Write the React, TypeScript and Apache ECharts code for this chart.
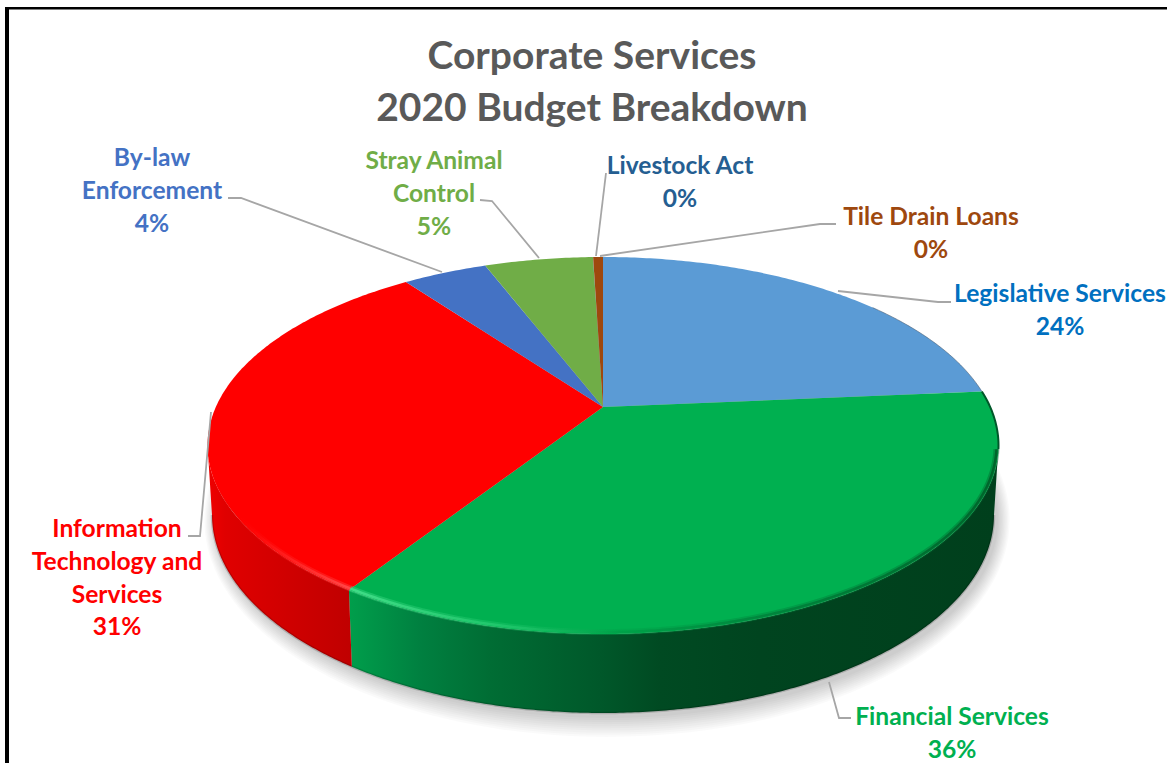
import React, { useEffect, useRef } from "react";
import * as echarts from "echarts";

const titleLines = ["Corporate Services", "2020 Budget Breakdown"];
const categories = [
  "Legislative Services",
  "Financial Services",
  "Information Technology and Services",
  "By-law Enforcement",
  "Stray Animal Control",
  "Livestock Act",
  "Tile Drain Loans",
];
const values = [23.6, 35.55, 30.75, 4.2, 5.4, 0.01, 0.49];
const sliceColors = ["#5b9bd5", "#00b050", "#ff0000", "#4472c4", "#70ad47", "#255e91", "#9e480e"];
const labelColors = ["#0070c0", "#00b050", "#ff0000", "#4472c4", "#70ad47", "#255e91", "#9e480e"];

const FONT = "Lato, Carlito, Calibri, sans-serif";
const W = 1167;
const H = 763;

// Perspective disc
const CX = 603;
const APEX_Y = 407;
const RX = 395.5;
const RY_BACK = 150;
const RY_FRONT = 227;
const K = (RY_FRONT - RY_BACK) / (RY_FRONT + RY_BACK);
const A = RY_FRONT * (1 - K);
const B = RX * Math.sqrt(1 - K * K);
const RIM_CY = APEX_Y + (RY_FRONT - RY_BACK) / 2;
const RIM_RY = (RY_FRONT + RY_BACK) / 2;
const FOOT_CY = 515;
const FOOT_RX = 391;
const FOOT_RY = 198;

const rimPoint = (t: number) => [CX + RX * Math.cos(t), RIM_CY + RIM_RY * Math.sin(t)];
const footPoint = (t: number) => [CX + FOOT_RX * Math.cos(t), FOOT_CY + FOOT_RY * Math.sin(t)];
// rim ellipse pulled in by a few pixels, for the soft bevel band
const bevelPoint = (t: number) => [CX + (RX - 2) * Math.cos(t), RIM_CY + (RIM_RY - 2) * Math.sin(t)];

// clockwise angle from 12 o'clock -> parameter on the rim ellipse
const angleToRim = (a: number) => {
  const u = Math.sin(a);
  const v = -Math.cos(a);
  const d = 1 - K * v;
  const x = CX + (B * u) / d;
  const y = APEX_Y + (A * v) / d;
  let t = Math.atan2((y - RIM_CY) / RIM_RY, (x - CX) / RX);
  if (a > Math.PI && t < 0) t += Math.PI * 2;
  return t;
};

const total = values.reduce((s, v) => s + v, 0);
const sliceRange = (i: number) => {
  let before = 0;
  for (let k = 0; k < i; k++) before += values[k];
  const a0 = (before / total) * Math.PI * 2;
  const a1 = ((before + values[i]) / total) * Math.PI * 2;
  return [angleToRim(a0), angleToRim(a1)];
};

const sampleRim = (t0: number, t1: number, fn: (t: number) => number[]) => {
  const n = Math.max(2, Math.ceil(Math.abs(t1 - t0) / 0.01));
  const out: number[][] = [];
  for (let i = 0; i <= n; i++) out.push(fn(t0 + ((t1 - t0) * i) / n));
  return out;
};

const lg = (stops: [number, string][], x0 = 207, x1 = 998) =>
  new echarts.graphic.LinearGradient(
    x0, 0, x1, 0,
    stops.map(([x, color]) => ({ offset: (x - x0) / (x1 - x0), color })),
    true
  );

const wallFills: Record<number, any> = {
  1: () =>
    lg([
      [345, "#00a04c"],
      [420, "#008040"],
      [490, "#006d34"],
      [600, "#00582a"],
      [660, "#004a22"],
      [760, "#00441f"],
      [998, "#003f1c"],
    ]),
  2: () =>
    lg([
      [207, "#f00000"],
      [225, "#e00000"],
      [280, "#d20000"],
      [350, "#c00000"],
    ]),
};
const rimStrokes: Record<number, any> = {
  1: () =>
    lg([
      [345, "#46e08c"],
      [520, "#1cc468"],
      [620, "#00a048"],
      [760, "#00843c"],
      [998, "#006029"],
    ]),
  2: () => lg([[236, "rgba(255,0,0,0)"], [270, "#ff1414"], [345, "#ff4a4a"]]),
};

const SHADOW_LAYERS = [0, 1, 2, 3, 4, 5, 6, 7, 8, 9];
const renderShadow = () => ({
  type: "group",
  silent: true,
  children: SHADOW_LAYERS.map((i) => ({
    type: "ellipse",
    shape: { cx: CX + 4, cy: FOOT_CY + 5, rx: FOOT_RX + 1.3 * i, ry: FOOT_RY + 2.1 * i },
    style: { fill: "rgba(0,0,0,0.021)" },
  })),
});

const renderWall = (params: any) => {
  const make = wallFills[params.dataIndex];
  if (!make) return { type: "group", children: [] };
  const [t0, t1] = sliceRange(params.dataIndex);
  const a = Math.max(t0, 0);
  const b = Math.min(t1, Math.PI);
  if (b <= a) return { type: "group", children: [] };
  const top = sampleRim(a, b, rimPoint);
  const foot = sampleRim(b, a, footPoint);
  return {
    type: "group",
    silent: true,
    children: [
      { type: "polygon", shape: { points: top.concat(foot) }, style: { fill: make() } },
      {
        type: "polyline",
        shape: { points: foot },
        style: { fill: null, stroke: "rgba(0,0,0,0.16)", lineWidth: 2.5 },
      },
    ],
  };
};

const renderTop = (params: any) => {
  const [t0, t1] = sliceRange(params.dataIndex);
  const pts = [[CX, APEX_Y]].concat(sampleRim(t0, t1, rimPoint));
  return {
    type: "polygon",
    silent: true,
    shape: { points: pts },
    style: { fill: sliceColors[params.dataIndex] },
  };
};

const renderRim = (params: any) => {
  const i = params.dataIndex;
  const [t0, t1] = sliceRange(i);
  if (i === 0) {
    return {
      type: "polyline",
      silent: true,
      shape: { points: sampleRim(t0 + 0.75, t1, rimPoint) },
      style: { fill: null, stroke: "rgba(70,90,110,0.55)", lineWidth: 1 },
    };
  }
  const make = rimStrokes[i];
  if (!make) return { type: "group", children: [] };
  const end = i === 2 ? Math.PI - 0.38 : t1;
  const front = Math.max(t0, 0.02);
  const band = sampleRim(front, end, bevelPoint);
  const children: any[] = [
    { type: "polyline", shape: { points: band }, style: { fill: null, stroke: make(), lineWidth: 6, opacity: 0.4 } },
    { type: "polyline", shape: { points: band }, style: { fill: null, stroke: make(), lineWidth: 2.5, opacity: 0.9 } },
  ];
  if (t0 < 0) {
    // dark fringe where the side wall just shows behind the rim's right end
    children.push({
      type: "polyline",
      shape: { points: sampleRim(t0, 0.02, rimPoint) },
      style: { fill: null, stroke: "#00582a", lineWidth: 2 },
    });
  }
  return { type: "group", silent: true, children };
};

// label layouts: lines, centre x, first-line centre y
const labelLayouts = [
  { lines: ["Legislative Services"], x: 1060, y: 293 },
  { lines: ["Financial Services"], x: 952, y: 716 },
  { lines: ["Information", "Technology and", "Services"], x: 117, y: 528 },
  { lines: ["By-law", "Enforcement"], x: 152, y: 157 },
  { lines: ["Stray Animal", "Control"], x: 434, y: 160 },
  { lines: ["Livestock Act"], x: 680, y: 165 },
  { lines: ["Tile Drain Loans"], x: 931, y: 216 },
];
const leaderPaths = [
  [[951, 302], [938, 302], [838, 291]],
  [[851, 718], [839, 718], [829, 682]],
  [[188, 536], [200, 536], [211, 412]],
  [[228, 198], [241, 198], [442, 272]],
  [[480, 200], [492, 201], [539, 258]],
  [[606, 173], [596, 256]],
  [[836, 224], [820, 224], [600, 256]],
];

const LABEL_SIZE = 24.6;
const LABEL_LH = 32.6;

const graphics: any[] = [
  { type: "rect", shape: { x: 5, y: 7, width: W - 5, height: 2.6 }, style: { fill: "#000" }, z: 20 },
  { type: "rect", shape: { x: 5, y: 7, width: 4, height: H - 7 }, style: { fill: "#000" }, z: 20 },
];
leaderPaths.forEach((points) =>
  graphics.push({
    type: "polyline",
    shape: { points },
    style: { fill: null, stroke: "#a6a6a6", lineWidth: 1.8 },
    z: 20,
  })
);
labelLayouts.forEach((l, i) => {
  const pct = Math.round((values[i] / total) * 100) + "%";
  graphics.push({
    type: "text",
    x: l.x,
    y: l.y - LABEL_LH / 2,
    z: 20,
    style: {
      text: l.lines.concat(pct).join("\n"),
      fill: labelColors[i],
      font: `bold ${LABEL_SIZE}px ${FONT}`,
      lineHeight: LABEL_LH,
      align: "center",
      verticalAlign: "top",
    },
  });
});

export default function App() {
  const ref = useRef<HTMLDivElement>(null);
  useEffect(() => {
    document.body.style.margin = "0";
    document.body.style.background = "#fff";
    const chart = echarts.init(ref.current!, undefined, { renderer: "svg" });
    const base = { type: "custom", coordinateSystem: "none", silent: true, clip: false };
    const named = categories.map((name, i) => ({ name, value: values[i] }));
    chart.setOption({
      animation: false,
      backgroundColor: "#ffffff",
      title: {
        text: titleLines.join("\n"),
        left: 587,
        top: 23,
        textAlign: "center",
        textStyle: {
          color: "#595959",
          fontFamily: FONT,
          fontWeight: "bold",
          fontSize: 39,
          lineHeight: 52,
        },
      },
      series: [
        { ...base, z: 1, data: [total], renderItem: renderShadow },
        { ...base, z: 2, data: named, renderItem: renderWall },
        { ...base, z: 3, data: named, renderItem: renderTop },
        { ...base, z: 4, data: named, renderItem: renderRim },
      ],
      graphic: { elements: graphics },
    });
    return () => chart.dispose();
  }, []);
  return <div ref={ref} style={{ width: W, height: H }} />;
}
